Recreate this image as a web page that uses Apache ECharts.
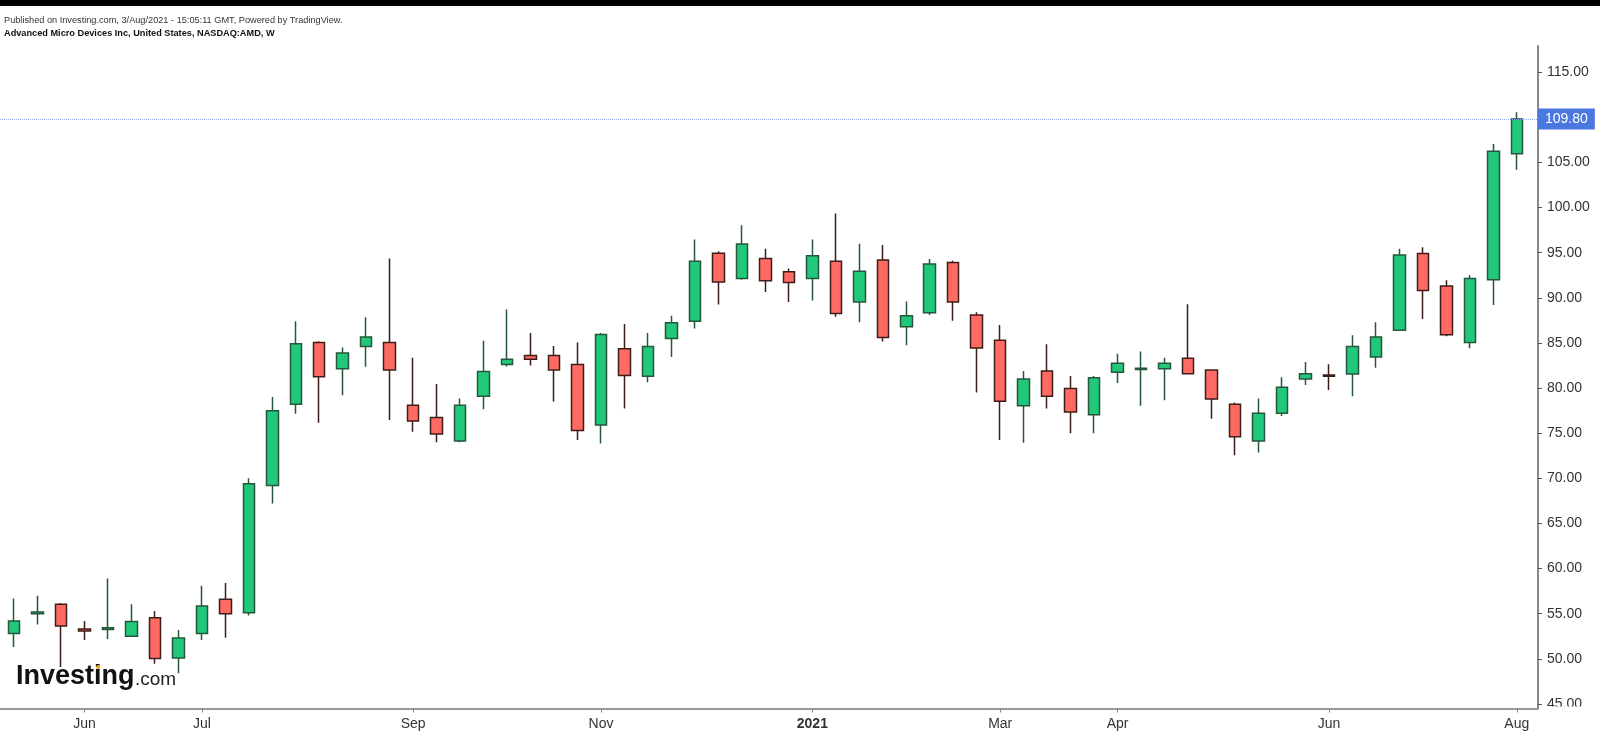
<!DOCTYPE html>
<html><head><meta charset="utf-8">
<script src="https://cdn.jsdelivr.net/npm/echarts@6/dist/echarts.min.js"></script>
<style>html,body{margin:0;padding:0;background:#fff}#c{width:1600px;height:734px}</style>
</head><body><div id="c"></div>
<script>
// Weekly bars (week start, Monday)
const weeks = [
 '2020-05-11','2020-05-18','2020-05-25','2020-06-01','2020-06-08','2020-06-15','2020-06-22','2020-06-29',
 '2020-07-06','2020-07-13','2020-07-20','2020-07-27','2020-08-03','2020-08-10','2020-08-17','2020-08-24',
 '2020-08-31','2020-09-07','2020-09-14','2020-09-21','2020-09-28','2020-10-05','2020-10-12','2020-10-19',
 '2020-10-26','2020-11-02','2020-11-09','2020-11-16','2020-11-23','2020-11-30','2020-12-07','2020-12-14',
 '2020-12-21','2020-12-28','2021-01-04','2021-01-11','2021-01-18','2021-01-25','2021-02-01','2021-02-08',
 '2021-02-15','2021-02-22','2021-03-01','2021-03-08','2021-03-15','2021-03-22','2021-03-29','2021-04-05',
 '2021-04-12','2021-04-19','2021-04-26','2021-05-03','2021-05-10','2021-05-17','2021-05-24','2021-05-31',
 '2021-06-07','2021-06-14','2021-06-21','2021-06-28','2021-07-05','2021-07-12','2021-07-19','2021-07-26',
 '2021-08-02'
];
const openP = [
 52.8,55.0,56.05,53.3,53.25,52.5,54.55,50.1,52.8,56.6,55.1,69.2,78.2,85.05,82.15,84.6,
 85.05,78.1,76.75,74.15,79.1,82.6,83.6,83.6,82.6,75.9,84.35,81.3,85.5,87.4,94.95,92.15,
 94.35,92.9,92.15,94.05,89.55,94.2,86.8,88.35,93.9,88.1,85.3,78.05,81.9,79.95,77.05,81.75,
 82.05,82.15,83.3,82.0,78.2,74.15,77.2,81.0,81.45,81.55,83.45,86.4,94.9,91.3,85.05,92.0,
 105.95
];
const closeP = [
 54.2,55.2,53.65,53.1,53.45,54.15,50.05,52.3,55.85,55.0,69.4,77.5,84.9,81.25,83.9,85.65,
 82.0,76.35,74.9,78.1,81.85,83.2,83.2,82.0,75.3,85.95,81.4,84.6,87.25,94.05,91.75,95.95,
 91.9,91.7,94.65,88.25,92.95,85.6,88.0,93.75,89.55,84.45,78.55,81.0,79.1,77.35,81.15,82.75,
 82.2,82.75,81.6,78.8,74.6,77.2,80.1,81.6,81.3,84.6,85.65,94.75,90.8,85.9,92.15,106.25,
 109.8
];
const lowP = [
 51.3,53.8,49.1,52.1,52.2,52.45,49.45,48.4,52.1,52.35,54.8,67.2,77.15,76.15,79.2,82.35,
 76.45,75.15,74.0,74.0,77.65,82.4,82.5,78.5,74.25,73.85,77.75,80.65,83.45,86.6,89.25,92.0,
 90.65,89.55,89.7,87.9,87.3,85.15,84.75,88.1,87.45,79.5,74.25,73.95,77.75,75.0,75.0,80.55,
 78.05,78.65,81.5,76.6,72.55,72.85,76.9,80.35,79.8,79.1,82.25,86.35,87.65,85.75,84.4,89.2,
 104.2
];
const highP = [
 56.7,57.0,56.2,54.2,58.9,56.05,55.3,53.2,58.1,58.4,70.0,79.0,87.4,85.2,84.5,87.85,
 94.35,83.35,80.45,78.85,85.25,88.7,86.1,84.65,85.05,86.1,87.1,86.1,88.0,96.45,95.15,98.05,
 95.45,93.25,96.45,99.35,96.0,95.85,89.6,94.3,94.1,88.4,87.0,81.9,84.85,81.35,81.35,83.8,
 84.05,83.35,89.3,82.05,78.4,78.85,81.2,82.9,82.65,85.85,87.3,95.45,95.6,91.95,92.5,107.05,
 110.55
];
const tickWeeks = ['2020-06-01','2020-07-06','2020-09-07','2020-11-02','2021-01-04','2021-03-01','2021-04-05','2021-06-07','2021-08-02'];
const tickTexts = ['Jun','Jul','Sep','Nov','2021','Mar','Apr','Jun','Aug'];
const yTicks = [45,50,55,60,65,70,75,80,85,90,95,100,105,110,115];
const lastPrice = 109.80;

const candles = weeks.map((w, i) => [openP[i], closeP[i], lowP[i], highP[i]]);
const FONT = 'Arial, "Liberation Sans", sans-serif';
const chart = echarts.init(document.getElementById('c'), null, {renderer: 'canvas'});
const isTick = (i, v) => tickWeeks.indexOf(v) >= 0;

chart.setOption({
  animation: false,
  backgroundColor: '#ffffff',
  textStyle: {fontFamily: FONT},
  grid: [
    {left: 2.26, right: 71.5, top: 46, bottom: 25.5},
    {left: 0, right: 62, top: 46, bottom: 25.5}
  ],
  xAxis: [
    {
      type: 'category', gridIndex: 0, data: weeks, boundaryGap: true,
      axisLine: {show: false},
      axisTick: {show: true, alignWithLabel: true, interval: isTick, length: 4, lineStyle: {color: '#888', width: 1}},
      axisLabel: {
        interval: isTick, margin: 9, color: '#333', fontSize: 14, fontFamily: FONT,
        formatter: v => { const t = tickTexts[tickWeeks.indexOf(v)]; return /^\d{4}$/.test(t) ? '{b|' + t + '}' : t; },
        rich: {b: {fontWeight: 'bold', fontSize: 14, color: '#333', fontFamily: FONT}}
      },
      splitLine: {show: false}
    },
    {
      type: 'category', gridIndex: 1, data: [''],
      axisLine: {show: true, lineStyle: {color: '#999', width: 2}},
      axisTick: {show: false}, axisLabel: {show: false}, splitLine: {show: false}
    }
  ],
  yAxis: [
    {type: 'value', gridIndex: 0, min: 44.5, max: 117.9, show: false, splitLine: {show: false}},
    {
      type: 'value', gridIndex: 1, position: 'right', min: 44.5, max: 117.9,
      axisLine: {show: true, lineStyle: {color: '#888', width: 2}},
      axisTick: {show: true, length: 4, customValues: yTicks, lineStyle: {color: '#555', width: 1}},
      axisLabel: {customValues: yTicks, formatter: v => v.toFixed(2), margin: 9, color: '#333', fontSize: 14, fontFamily: FONT},
      splitLine: {show: false}
    }
  ],
  series: [
    {
      type: 'candlestick', xAxisIndex: 0, yAxisIndex: 0, data: candles, barWidth: 12,
      itemStyle: {color: '#21c77a', color0: '#ff6b63', borderColor: '#24573b', borderColor0: '#3e1d19', borderWidth: 1.5}
    },
    {
      type: 'line', xAxisIndex: 1, yAxisIndex: 1, data: [], silent: true,
      markLine: {
        silent: true, symbol: ['none', 'none'], animation: false,
        data: [{yAxis: lastPrice}],
        lineStyle: {type: 'dotted', color: '#92aaf0', width: 1},
        label: {
          show: true, position: 'end', distance: 0,
          formatter: () => lastPrice.toFixed(2),
          backgroundColor: '#4a78e0', color: '#fff', fontSize: 14, fontFamily: FONT,
          padding: [3, 7, 3, 7], lineHeight: 15
        },
        emphasis: {disabled: true}
      }
    }
  ],
  graphic: [
    {type: 'rect', x: 0, y: 0, shape: {width: 1600, height: 6}, style: {fill: '#000'}, z: 100},
    {type: 'text', x: 4, y: 20, z: 100, style: {text: 'Published on Investing.com, 3/Aug/2021 - 15:05:11 GMT, Powered by TradingView.', font: '9.2px ' + FONT, fill: '#333', verticalAlign: 'middle'}},
    {type: 'text', x: 4, y: 33.5, z: 100, style: {text: 'Advanced Micro Devices Inc, United States, NASDAQ:AMD, W', font: 'bold 9.2px ' + FONT, fill: '#111', verticalAlign: 'middle'}},
    {type: 'text', x: 16, y: 677, z: 100, style: {text: 'Investing', font: 'bold 27px ' + FONT, fill: '#111', verticalAlign: 'middle'}},
    {type: 'circle', x: 98.2, y: 667, z: 101, shape: {r: 2}, style: {fill: '#f7a21b'}},
    {type: 'text', x: 135, y: 680, z: 100, style: {text: '.com', font: '19px ' + FONT, fill: '#222', verticalAlign: 'middle'}},
    {type: 'rect', x: 1539.5, y: 706.5, shape: {width: 60, height: 10}, style: {fill: '#fff'}, z: 100}
  ]
});
</script>
</body></html>
